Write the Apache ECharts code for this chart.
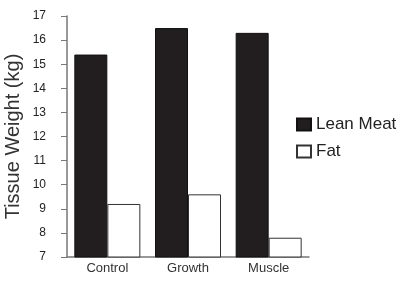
<!DOCTYPE html>
<html lang="en">
<head>
    <meta charset="utf-8">
    <title>Tissue Weight</title>
    <script src="https://cdn.jsdelivr.net/npm/echarts@6/dist/echarts.min.js"></script>
</head>
<body style="margin: 0; background: #fff">
<div id="main" style="width: 403px; height: 281px"></div>
<script>
    var groups = ['Control', 'Growth', 'Muscle'];
    var leanMeat = [15.4, 16.5, 16.3];
    var fat = [9.2, 9.6, 7.8];
    var yTicks = [7, 17, 1]; // min, max, step

    var font = 'Liberation Sans, Arial, sans-serif';
    var chart = echarts.init(document.getElementById('main'), null, {renderer: 'canvas'});

    var option = {
        animation: false,
        textStyle: {fontFamily: font},
        grid: {left: 67, right: 94, top: 16, bottom: 24, outerBoundsMode: 'none'},
        legend: {
            orient: 'vertical',
            left: 296,
            top: 116,
            padding: 0,
            itemWidth: 14,
            itemHeight: 12,
            itemGap: 10,
            icon: 'rect',
            textStyle: {fontFamily: font, fontSize: 17, color: '#222'},
            data: ['Lean Meat', 'Fat']
        },
        xAxis: {
            type: 'category',
            data: groups,
            axisLine: {lineStyle: {color: '#777', width: 1.5}},
            axisTick: {alignWithLabel: true, length: 4, lineStyle: {color: '#777'}},
            axisLabel: {color: '#333', fontSize: 13, margin: 5, fontFamily: font}
        },
        yAxis: {
            type: 'value',
            min: yTicks[0],
            max: yTicks[1],
            interval: yTicks[2],
            name: 'Tissue Weight (kg)',
            nameLocation: 'middle',
            nameGap: 44,
            nameMoveOverlap: false,
            nameTextStyle: {fontSize: 20, color: '#333', fontFamily: font},
            splitLine: {show: false},
            axisLine: {show: true, lineStyle: {color: '#777', width: 1.5}},
            axisTick: {show: true, length: 6, lineStyle: {color: '#777'}},
            axisLabel: {color: '#222', fontSize: 12, margin: 21, fontFamily: font}
        },
        series: [
            {
                name: 'Lean Meat',
                type: 'bar',
                data: leanMeat,
                barWidth: 33,
                barGap: '0%',
                itemStyle: {color: '#221e1f', borderColor: '#111', borderWidth: 1}
            },
            {
                name: 'Fat',
                type: 'bar',
                data: fat,
                barWidth: 33,
                itemStyle: {color: '#fff', borderColor: '#333', borderWidth: 1}
            }
        ]
    };

    chart.setOption(option);
</script>
</body>
</html>
